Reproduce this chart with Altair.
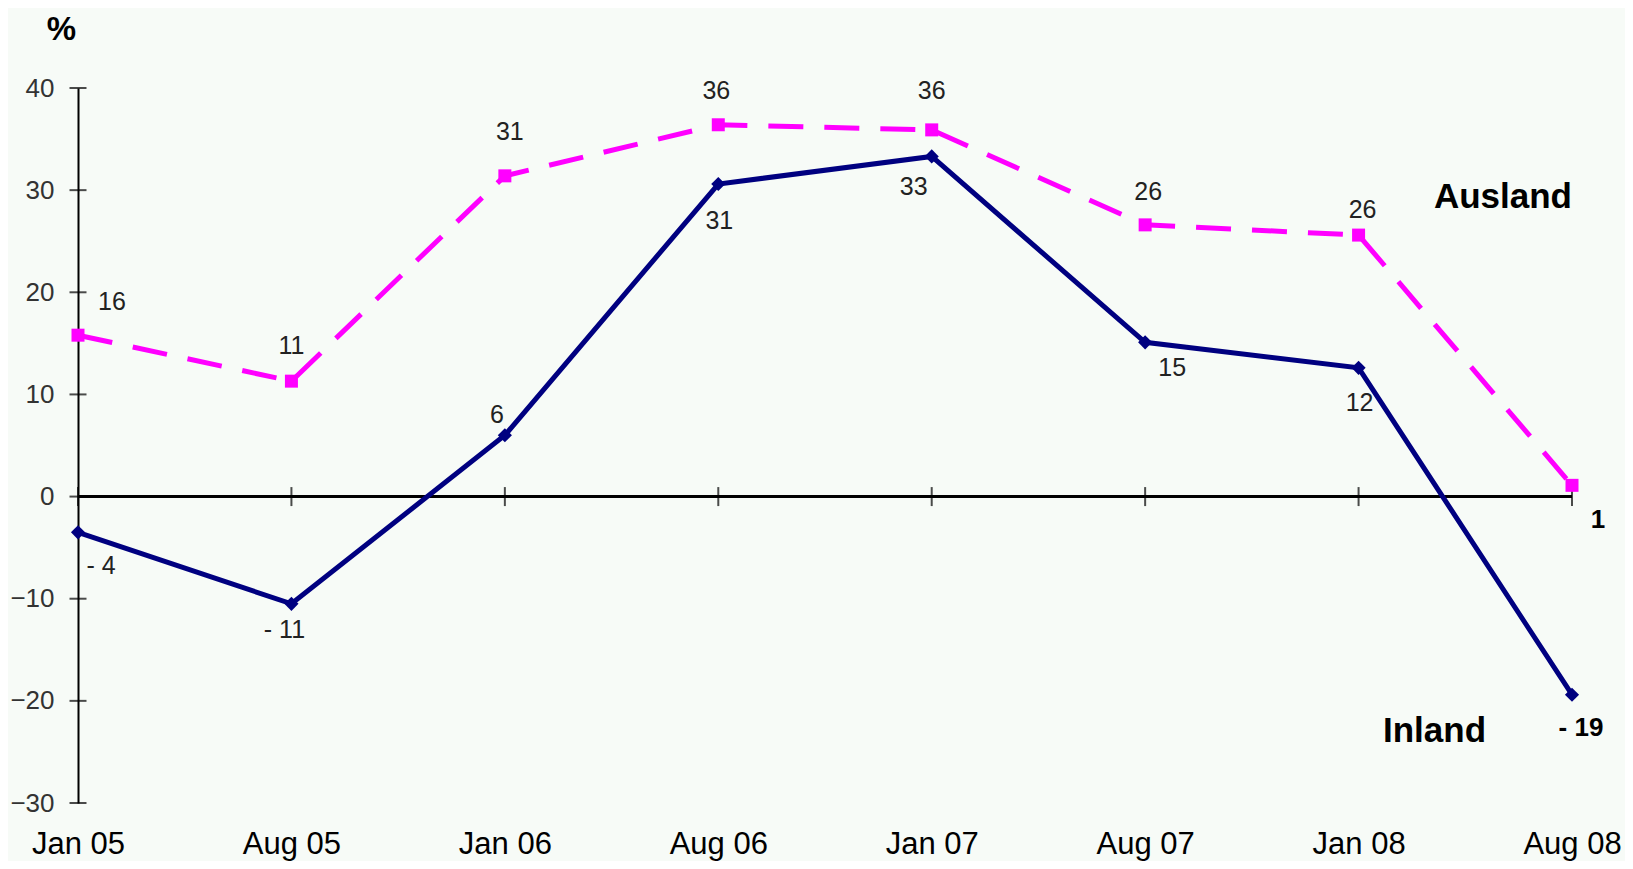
import altair as alt
import pandas as pd

dates = ["Jan 05", "Aug 05", "Jan 06", "Aug 06", "Jan 07", "Aug 07", "Jan 08", "Aug 08"]
inland = [-3.5, -10.5, 6.0, 30.6, 33.3, 15.1, 12.6, -19.4]
ausland = [15.8, 11.3, 31.4, 36.4, 35.9, 26.6, 25.6, 1.1]
inland_labels = ["- 4", "- 11", "6", "31", "33", "15", "12", "- 19"]
ausland_labels = ["16", "11", "31", "36", "36", "26", "26", "1"]
y_ticks = [-30, -20, -10, 0, 10, 20, 30, 40]

rows = []
for i, d in enumerate(dates):
    rows.append({"date": d, "idx": i, "series": "Inland", "value": inland[i], "label": inland_labels[i]})
    rows.append({"date": d, "idx": i, "series": "Ausland", "value": ausland[i], "label": ausland_labels[i]})
df = pd.DataFrame(rows)
ticks_df = pd.DataFrame({"value": y_ticks, "date": dates[0]})

FONT = "Liberation Sans"
NAVY = "#000080"
MAGENTA = "#FF00FF"

x_enc = alt.X("date:N", sort=dates, scale=alt.Scale(type="point", padding=0),
              axis=alt.Axis(title=None, labelAngle=0, domain=False, ticks=False,
                            labelFontSize=31, labelFont=FONT, labelColor="black",
                            labelPadding=50, labelBaseline="alphabetic"))
y_enc = alt.Y("value:Q", scale=alt.Scale(domain=[-30, 40], nice=False, zero=False),
              axis=alt.Axis(values=y_ticks, grid=False, ticks=False, tickSize=0,
                            domainColor="black", domainWidth=2,
                            labelFontSize=26, labelColor="#333333", labelFont=FONT,
                            labelPadding=24,
                            title="%", titleAngle=0, titleX=-17, titleY=-49,
                            titleAlign="center", titleBaseline="alphabetic",
                            titleFontSize=33, titleFontWeight="bold", titleColor="black",
                            titleFont=FONT))

base = alt.Chart(df).encode(x=x_enc, y=y_enc)

zero_line = alt.Chart(df).mark_rule(color="black", strokeWidth=2).encode(y=alt.Y(datum=0))
x_ticks = base.transform_filter("datum.series == 'Inland'").mark_tick(
    orient="vertical", size=19, thickness=2, color="black").encode(y=alt.Y(datum=0))
y_tick_marks = alt.Chart(ticks_df).mark_tick(
    orient="horizontal", size=17, thickness=2, color="black").encode(x=x_enc, y=y_enc)

inl = base.transform_filter("datum.series == 'Inland'")
aus = base.transform_filter("datum.series == 'Ausland'")

inl_line = inl.mark_line(color=NAVY, strokeWidth=5)
inl_pts = inl.mark_point(shape="diamond", filled=True, size=200, color=NAVY, opacity=1)
aus_line = aus.mark_line(color=MAGENTA, strokeWidth=5, strokeDash=[35, 21])
aus_pts = aus.mark_point(shape="square", filled=True, size=169, color=MAGENTA, opacity=1)

aus_off = [(34, -33), (0, -35), (5, -44), (-2, -34), (0, -39), (3, -33), (4, -25), (26, 35)]
inl_off = [(23, 34), (-7, 26), (-8, -20), (1, 37), (-18, 31), (27, 26), (1, 35), (9, 33)]

label_layers = []
for series, offs in (("Ausland", aus_off), ("Inland", inl_off)):
    for i, (dx, dy) in enumerate(offs):
        last = i == len(dates) - 1
        label_layers.append(
            base.transform_filter(f"datum.series == '{series}' && datum.idx == {i}")
            .mark_text(dx=dx, dy=dy, align="center", baseline="middle", font=FONT,
                       fontSize=26 if last else 25,
                       fontWeight="bold" if last else "normal",
                       color="black" if last else "#222222")
            .encode(text="label:N")
        )

aus_name = base.transform_filter("datum.series == 'Ausland' && datum.idx == 7").mark_text(
    dx=0, dy=-277, align="right", baseline="alphabetic", font=FONT, fontSize=35,
    fontWeight="bold", color="black").encode(text="series:N")
inl_name = base.transform_filter("datum.series == 'Inland' && datum.idx == 7").mark_text(
    dx=-189, dy=47, align="left", baseline="alphabetic", font=FONT, fontSize=35,
    fontWeight="bold", color="black").encode(text="series:N")

chart = alt.layer(
    zero_line, x_ticks, y_tick_marks,
    aus_line, inl_line, aus_pts, inl_pts,
    *label_layers, aus_name, inl_name
).properties(
    width=1494, height=715,
    autosize=alt.AutoSizeParams(type="none"),
    padding={"left": 70, "top": 80, "right": 53, "bottom": 58},
    background="#F7FBF7",
).configure_view(stroke=None)

chart.save("out.html", embed_options={"renderer": "svg", "actions": False})
